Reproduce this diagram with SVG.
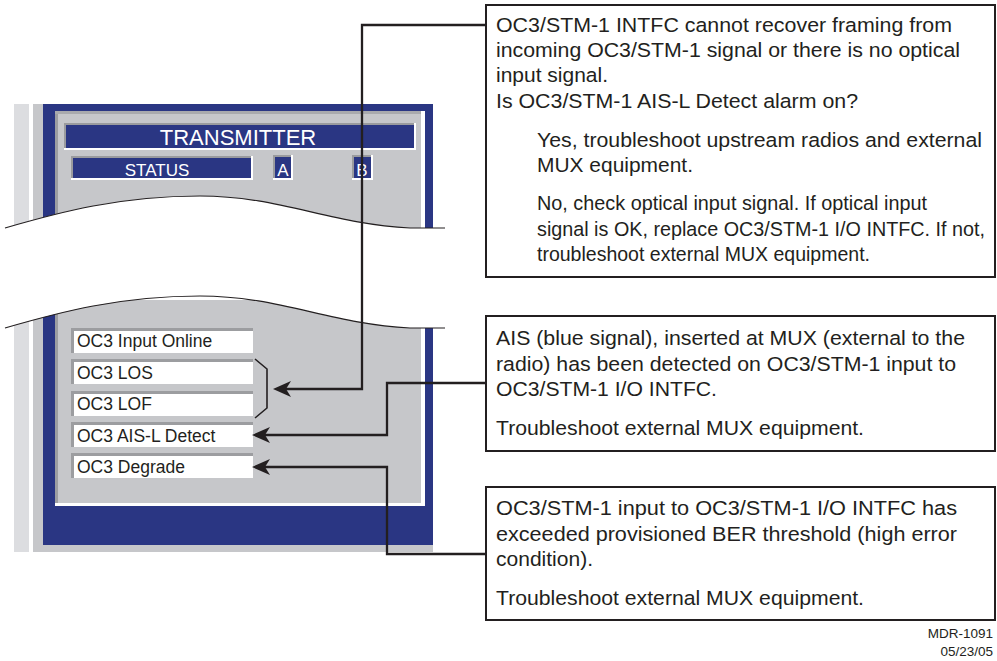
<svg xmlns="http://www.w3.org/2000/svg" width="997" height="661" viewBox="0 0 997 661">
<style>
.t{font-family:"Liberation Sans",Arial,Helvetica,sans-serif;fill:#231f20}
.box{font-size:20.5px}
.item{font-size:17.5px}
.hdr{fill:#ffffff;font-family:"Liberation Sans",Arial,Helvetica,sans-serif}
.conn{fill:none;stroke:#231f20;stroke-width:2.3;marker-end:url(#arr)}
.frame{fill:#ffffff;stroke:#231f20;stroke-width:2}
.wave{fill:none;stroke:#231f20;stroke-width:1.2}
.ibox{fill:#ffffff}
.ibd{fill:#9c9da0}
</style>
<defs>
<marker id="arr" markerUnits="userSpaceOnUse" markerWidth="20" markerHeight="18" refX="12" refY="8" orient="auto" overflow="visible">
<path d="M0,0 L18,8 L0,16 L5,8 Z" fill="#231f20"/>
</marker>
</defs>
<g id="panel">
<rect x="14" y="104" width="15" height="448" fill="#dcdde0"/>
<rect x="33" y="104" width="400" height="448" fill="#c6c7ca"/>
<rect x="43" y="104" width="390" height="441" fill="#2a3683"/>
<rect x="55" y="111" width="370" height="395" fill="#ffffff"/>
<rect x="55" y="111" width="366" height="392" fill="#c6c7ca"/>
<rect x="55" y="111" width="3" height="392" fill="#9d9ea1"/>
<rect x="55" y="111" width="366" height="3" fill="#a9aaad"/>
</g>
<g id="transmitter">
<rect x="64" y="123" width="352" height="27" fill="#ffffff"/>
<rect x="64" y="123" width="350" height="25" fill="#9a9b9e"/>
<rect x="66" y="125" width="348" height="23" fill="#2a3683"/>
<text class="hdr" x="238" y="145" font-size="22" text-anchor="middle">TRANSMITTER</text>
</g>
<g id="status">
<rect x="71" y="156" width="182" height="24" fill="#ffffff"/>
<rect x="71" y="156" width="180" height="22" fill="#9a9b9e"/>
<rect x="73" y="158" width="178" height="20" fill="#2a3683"/>
<text class="hdr" x="157" y="176" font-size="17" text-anchor="middle">STATUS</text>
</g>
<g id="led-a">
<rect x="273" y="155" width="20" height="25" fill="#ffffff"/>
<rect x="273" y="155" width="18" height="23" fill="#9a9b9e"/>
<rect x="275" y="157" width="16" height="21" fill="#2a3683"/>
<text class="hdr" x="283" y="176" font-size="17" text-anchor="middle">A</text>
</g>
<g id="led-b">
<rect x="352" y="155" width="21" height="25" fill="#ffffff"/>
<rect x="352" y="155" width="19" height="23" fill="#9a9b9e"/>
<rect x="354" y="157" width="17" height="21" fill="#2a3683"/>
<text class="hdr" x="362" y="176" font-size="17" text-anchor="middle">B</text>
</g>
<g id="break">
<path d="M0,228 L5,228 C60,212 120,196 200,196 C280,196 330,224 410,228 L450,228 L450,300 L0,300 Z" fill="#ffffff"/>
<path d="M0,280 L450,280 L450,328 L410,328 C330,324 280,296 200,296 C120,296 60,312 5,328 L0,328 Z" fill="#ffffff"/>
<path class="wave" d="M5,228 C60,212 120,196 200,196 C280,196 330,224 410,228 L445,228"/>
<path class="wave" d="M5,328 C60,312 120,296 200,296 C280,296 330,324 410,328 L445,328"/>
</g>
<g id="item-online">
<rect class="ibox" x="71" y="328" width="182" height="25"/>
<rect class="ibd" x="71" y="328" width="182" height="3"/>
<rect class="ibd" x="71" y="328" width="3" height="25"/>
<text class="t item" x="77" y="347">OC3 Input Online</text>
</g>
<g id="item-los">
<rect class="ibox" x="71" y="359" width="182" height="25"/>
<rect class="ibd" x="71" y="359" width="182" height="3"/>
<rect class="ibd" x="71" y="359" width="3" height="25"/>
<text class="t item" x="77" y="379">OC3 LOS</text>
</g>
<g id="item-lof">
<rect class="ibox" x="71" y="391" width="182" height="25"/>
<rect class="ibd" x="71" y="391" width="182" height="3"/>
<rect class="ibd" x="71" y="391" width="3" height="25"/>
<text class="t item" x="77" y="410">OC3 LOF</text>
</g>
<g id="item-ais">
<rect class="ibox" x="71" y="422" width="182" height="25"/>
<rect class="ibd" x="71" y="422" width="182" height="3"/>
<rect class="ibd" x="71" y="422" width="3" height="25"/>
<text class="t item" x="77" y="442">OC3 AIS-L Detect</text>
</g>
<g id="item-degrade">
<rect class="ibox" x="71" y="453" width="182" height="25"/>
<rect class="ibd" x="71" y="453" width="182" height="3"/>
<rect class="ibd" x="71" y="453" width="3" height="25"/>
<text class="t item" x="77" y="473">OC3 Degrade</text>
</g>
<g id="bracket">
<polyline points="255,359 267,369 267,408 255,418" fill="none" stroke="#231f20" stroke-width="1.6"/>
</g>
<g id="note-los">
<rect class="frame" x="486" y="5" width="509" height="272"/>
<text class="t box" x="496" y="32" textLength="456" lengthAdjust="spacingAndGlyphs">OC3/STM-1 INTFC cannot recover framing from</text>
<text class="t box" x="496" y="57" textLength="464" lengthAdjust="spacingAndGlyphs">incoming OC3/STM-1 signal or there is no optical</text>
<text class="t box" x="496" y="82" textLength="112" lengthAdjust="spacingAndGlyphs">input signal.</text>
<text class="t box" x="496" y="108" textLength="362" lengthAdjust="spacingAndGlyphs">Is OC3/STM-1 AIS-L Detect alarm on?</text>
<text class="t box" x="537" y="147" textLength="445" lengthAdjust="spacingAndGlyphs">Yes, troubleshoot upstream radios and external</text>
<text class="t box" x="537" y="172" textLength="156" lengthAdjust="spacingAndGlyphs">MUX equipment.</text>
<text class="t box" x="537" y="210" textLength="390" lengthAdjust="spacingAndGlyphs">No, check optical input signal. If optical input</text>
<text class="t box" x="537" y="236" font-size="19.5" textLength="448" lengthAdjust="spacingAndGlyphs">signal is OK, replace OC3/STM-1 I/O INTFC. If not,</text>
<text class="t box" x="537" y="261" textLength="333" lengthAdjust="spacingAndGlyphs">troubleshoot external MUX equipment.</text>
</g>
<g id="note-ais">
<rect class="frame" x="486" y="316" width="509" height="135"/>
<text class="t box" x="496" y="345" textLength="469" lengthAdjust="spacingAndGlyphs">AIS (blue signal), inserted at MUX (external to the</text>
<text class="t box" x="496" y="371" textLength="460" lengthAdjust="spacingAndGlyphs">radio) has been detected on OC3/STM-1 input to</text>
<text class="t box" x="496" y="396" textLength="221" lengthAdjust="spacingAndGlyphs">OC3/STM-1 I/O INTFC.</text>
<text class="t box" x="496" y="435" textLength="368" lengthAdjust="spacingAndGlyphs">Troubleshoot external MUX equipment.</text>
</g>
<g id="note-degrade">
<rect class="frame" x="486" y="487" width="509" height="133"/>
<text class="t box" x="496" y="515" textLength="461" lengthAdjust="spacingAndGlyphs">OC3/STM-1 input to OC3/STM-1 I/O INTFC has</text>
<text class="t box" x="496" y="541" textLength="461" lengthAdjust="spacingAndGlyphs">exceeded provisioned BER threshold (high error</text>
<text class="t box" x="496" y="566" textLength="97" lengthAdjust="spacingAndGlyphs">condition).</text>
<text class="t box" x="496" y="605" textLength="368" lengthAdjust="spacingAndGlyphs">Troubleshoot external MUX equipment.</text>
</g>
<g id="connectors">
<path class="conn" d="M486,25 H362 V389 H279"/>
<path class="conn" d="M486,383 H387 V435 H258"/>
<path class="conn" d="M486,554 H387 V467 H258"/>
</g>
<g id="footer">
<text class="t" x="993" y="638" font-size="13.5" text-anchor="end">MDR-1091</text>
<text class="t" x="993" y="656" font-size="13.5" text-anchor="end">05/23/05</text>
</g>
</svg>
